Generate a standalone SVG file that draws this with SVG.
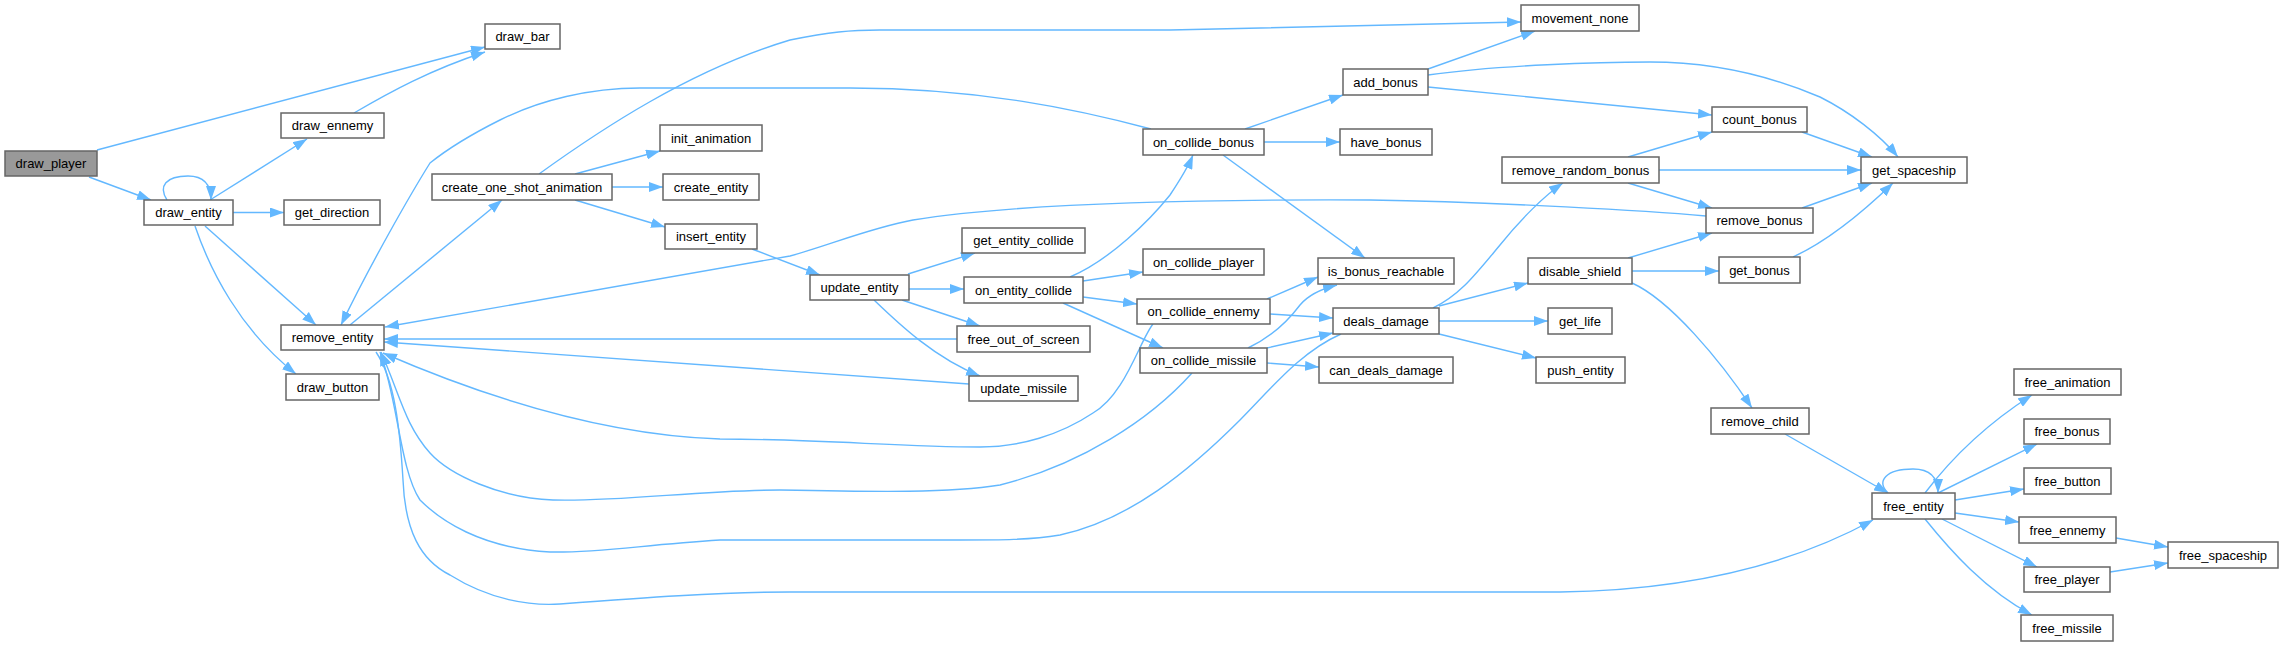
<svg xmlns="http://www.w3.org/2000/svg" width="2283" height="647" viewBox="0 0 2283 647">
<defs>
<marker id="ah" markerUnits="userSpaceOnUse" markerWidth="14" markerHeight="10" viewBox="0 0 14 10" refX="14" refY="5" orient="auto"><path d="M0,0 L14,5 L0,10 z" fill="#63b8ff"/></marker>
<style>
.n rect{fill:#fff;stroke:#666;stroke-width:1.5}
.n.root rect{fill:#999}
.n text{font-family:"Liberation Sans",Arial,sans-serif;font-size:13px;fill:#000;text-anchor:middle}
.e path{fill:none;stroke:#63b8ff;stroke-width:1.4;marker-end:url(#ah)}
.e path.nm{marker-end:none}
</style>
</defs>
<rect width="2283" height="647" fill="#fff"/>
<g class="e" id="connectors">
<path d="M97,150 L485,47"/>
<path d="M354,113 C390,92 430,70 485,52"/>
<path d="M89,177 L151,200"/>
<path d="M167,200 C158,186 166,176 188,176 C204,176 211,185 211,200"/>
<path d="M210,200 L307,139"/>
<path d="M233,212.5 L284,212.5"/>
<path d="M205,226 L316,325"/>
<path d="M195,226 C210,270 240,330 296,374"/>
<path d="M1151,129 C1080,110 980,88 850,88 L640,88 C590,88 540,100 500,120 C460,140 440,155 430,163 C410,195 370,265 341,325"/>
<path d="M350,325 L502,200"/>
<path d="M539,174 C600,130 690,70 790,40 C830,32 850,30 880,30 L1170,30 L1521,22"/>
<path d="M575,174 L660,151"/>
<path d="M612,187 L663,187"/>
<path d="M575,200 L665,227"/>
<path d="M752,249 L820,275"/>
<path d="M1706,216 C1650,211 1500,202 1370,200 C1150,199 1000,206 913,220 C870,228 830,245 790,256 L385,327"/>
<path d="M957,339 L384,339"/>
<path d="M969,384 L384,342"/>
<path d="M1153,324 C1140,340 1125,395 1093,413 C1060,435 1020,447 980,447 C900,447 820,439 720,439 C600,435 480,395 383,353"/>
<path d="M1192,373 C1150,420 1080,465 1000,485 C950,493 880,492 780,490 C700,490 620,502 553,500 C500,498 450,475 430,453 C405,425 400,395 381,352"/>
<path d="M1341,334 C1300,352 1270,390 1240,420 C1190,470 1130,520 1060,535 C1030,540 1000,540 960,540 L720,540 C640,545 600,553 550,552 C480,548 440,520 420,500 C400,470 398,400 380,352"/>
<path d="M376,352 C395,380 400,430 403,480 C405,530 420,560 450,575 C490,600 530,606 560,604 C640,598 720,592 790,592 L1560,592 C1700,590 1800,560 1873,520"/>
<path d="M908,274 L975,253"/>
<path d="M909,289 L964,289"/>
<path d="M902,300 L980,326"/>
<path d="M874,300 C900,325 935,358 980,376"/>
<path d="M1070,277 C1110,260 1150,220 1170,195 C1180,180 1188,167 1193,155"/>
<path d="M1083,281 L1143,272"/>
<path d="M1083,297 L1137,304"/>
<path d="M1063,303 L1163,348"/>
<path d="M1245,129 L1343,95"/>
<path d="M1264,142 L1340,142"/>
<path d="M1223,155 L1365,258"/>
<path d="M1267,299 L1318,277"/>
<path d="M1270,314 L1333,318"/>
<path d="M1248,348 C1265,340 1285,325 1300,305 C1310,293 1325,288 1337,285"/>
<path d="M1267,348 L1333,333"/>
<path d="M1267,363 L1319,367"/>
<path d="M1428,69 L1535,31"/>
<path d="M1428,75 C1500,65 1600,62 1650,62 C1720,62 1780,80 1820,97 C1850,112 1880,135 1898,157"/>
<path d="M1428,87 L1712,115"/>
<path d="M1628,157 L1712,132"/>
<path d="M1659,170 L1861,170"/>
<path d="M1628,183 L1712,208"/>
<path d="M1802,132 L1872,157"/>
<path d="M1802,208 L1872,183"/>
<path d="M1793,257 C1830,240 1865,210 1893,183"/>
<path d="M1628,258 L1712,233"/>
<path d="M1632,271 L1719,271"/>
<path d="M1632,283 C1670,300 1720,360 1752,408"/>
<path d="M1433,308 C1460,295 1475,275 1500,245 C1520,220 1545,195 1563,183"/>
<path d="M1439,306 L1528,283"/>
<path d="M1439,321 L1548,321"/>
<path d="M1439,334 L1536,358"/>
<path d="M1785,434 L1888,493"/>
<path d="M1888,493 C1876,481 1886,469 1913,469 C1930,469 1938,478 1938,493"/>
<path d="M1925,493 C1950,460 1985,425 2032,395"/>
<path d="M1938,493 L2037,444"/>
<path d="M1955,500 L2024,489"/>
<path d="M1955,513 L2019,522"/>
<path d="M1942,519 L2037,567"/>
<path d="M1925,519 C1950,550 1985,590 2032,615"/>
<path d="M2116,538 L2168,547"/>
<path d="M2110,572 L2168,563"/>
</g>
<g class="n root" id="draw_player"><rect x="5" y="151" width="92" height="25"/><text x="51" y="168">draw_player</text></g>
<g class="n" id="draw_entity"><rect x="144" y="200" width="89" height="25"/><text x="188.5" y="217">draw_entity</text></g>
<g class="n" id="draw_ennemy"><rect x="281" y="113" width="103" height="25"/><text x="332.5" y="130">draw_ennemy</text></g>
<g class="n" id="get_direction"><rect x="284" y="200" width="96" height="25"/><text x="332" y="217">get_direction</text></g>
<g class="n" id="remove_entity"><rect x="281" y="325" width="103" height="25"/><text x="332.5" y="342">remove_entity</text></g>
<g class="n" id="draw_button"><rect x="286" y="374" width="93" height="26"/><text x="332.5" y="391.5">draw_button</text></g>
<g class="n" id="draw_bar"><rect x="485" y="24" width="75" height="25"/><text x="522.5" y="41">draw_bar</text></g>
<g class="n" id="create_one_shot_animation"><rect x="432" y="174" width="180" height="26"/><text x="522" y="191.5">create_one_shot_animation</text></g>
<g class="n" id="init_animation"><rect x="660" y="125" width="102" height="26"/><text x="711" y="142.5">init_animation</text></g>
<g class="n" id="create_entity"><rect x="663" y="174" width="96" height="26"/><text x="711" y="191.5">create_entity</text></g>
<g class="n" id="insert_entity"><rect x="665" y="224" width="92" height="25"/><text x="711" y="241">insert_entity</text></g>
<g class="n" id="on_collide_bonus"><rect x="1143" y="129" width="121" height="26"/><text x="1203.5" y="146.5">on_collide_bonus</text></g>
<g class="n" id="get_entity_collide"><rect x="962" y="228" width="123" height="25"/><text x="1023.5" y="245">get_entity_collide</text></g>
<g class="n" id="update_entity"><rect x="810" y="275" width="99" height="25"/><text x="859.5" y="292">update_entity</text></g>
<g class="n" id="on_entity_collide"><rect x="964" y="277" width="119" height="26"/><text x="1023.5" y="294.5">on_entity_collide</text></g>
<g class="n" id="on_collide_player"><rect x="1143" y="249" width="121" height="26"/><text x="1203.5" y="266.5">on_collide_player</text></g>
<g class="n" id="on_collide_ennemy"><rect x="1137" y="299" width="133" height="25"/><text x="1203.5" y="316">on_collide_ennemy</text></g>
<g class="n" id="free_out_of_screen"><rect x="957" y="326" width="133" height="26"/><text x="1023.5" y="343.5">free_out_of_screen</text></g>
<g class="n" id="update_missile"><rect x="969" y="376" width="109" height="25"/><text x="1023.5" y="393">update_missile</text></g>
<g class="n" id="on_collide_missile"><rect x="1140" y="348" width="127" height="25"/><text x="1203.5" y="365">on_collide_missile</text></g>
<g class="n" id="movement_none"><rect x="1521" y="5" width="118" height="26"/><text x="1580" y="22.5">movement_none</text></g>
<g class="n" id="add_bonus"><rect x="1343" y="69" width="85" height="26"/><text x="1385.5" y="86.5">add_bonus</text></g>
<g class="n" id="have_bonus"><rect x="1340" y="129" width="92" height="26"/><text x="1386" y="146.5">have_bonus</text></g>
<g class="n" id="remove_random_bonus"><rect x="1502" y="157" width="157" height="26"/><text x="1580.5" y="174.5">remove_random_bonus</text></g>
<g class="n" id="is_bonus_reachable"><rect x="1318" y="258" width="136" height="26"/><text x="1386" y="275.5">is_bonus_reachable</text></g>
<g class="n" id="deals_damage"><rect x="1333" y="308" width="106" height="26"/><text x="1386" y="325.5">deals_damage</text></g>
<g class="n" id="disable_shield"><rect x="1528" y="258" width="104" height="26"/><text x="1580" y="275.5">disable_shield</text></g>
<g class="n" id="get_life"><rect x="1548" y="308" width="64" height="26"/><text x="1580" y="325.5">get_life</text></g>
<g class="n" id="can_deals_damage"><rect x="1319" y="357" width="134" height="26"/><text x="1386" y="374.5">can_deals_damage</text></g>
<g class="n" id="push_entity"><rect x="1536" y="357" width="89" height="26"/><text x="1580.5" y="374.5">push_entity</text></g>
<g class="n" id="count_bonus"><rect x="1712" y="107" width="95" height="25"/><text x="1759.5" y="124">count_bonus</text></g>
<g class="n" id="get_spaceship"><rect x="1861" y="157" width="106" height="26"/><text x="1914" y="174.5">get_spaceship</text></g>
<g class="n" id="remove_bonus"><rect x="1706" y="208" width="107" height="25"/><text x="1759.5" y="225">remove_bonus</text></g>
<g class="n" id="get_bonus"><rect x="1719" y="257" width="81" height="26"/><text x="1759.5" y="274.5">get_bonus</text></g>
<g class="n" id="remove_child"><rect x="1711" y="408" width="98" height="26"/><text x="1760" y="425.5">remove_child</text></g>
<g class="n" id="free_entity"><rect x="1872" y="493" width="83" height="26"/><text x="1913.5" y="510.5">free_entity</text></g>
<g class="n" id="free_animation"><rect x="2014" y="369" width="107" height="26"/><text x="2067.5" y="386.5">free_animation</text></g>
<g class="n" id="free_bonus"><rect x="2024" y="419" width="86" height="25"/><text x="2067" y="436">free_bonus</text></g>
<g class="n" id="free_button"><rect x="2024" y="468" width="87" height="26"/><text x="2067.5" y="485.5">free_button</text></g>
<g class="n" id="free_ennemy"><rect x="2019" y="517" width="97" height="26"/><text x="2067.5" y="534.5">free_ennemy</text></g>
<g class="n" id="free_player"><rect x="2024" y="567" width="86" height="25"/><text x="2067" y="584">free_player</text></g>
<g class="n" id="free_missile"><rect x="2021" y="615" width="92" height="26"/><text x="2067" y="632.5">free_missile</text></g>
<g class="n" id="free_spaceship"><rect x="2168" y="542" width="110" height="26"/><text x="2223" y="559.5">free_spaceship</text></g>
</svg>
